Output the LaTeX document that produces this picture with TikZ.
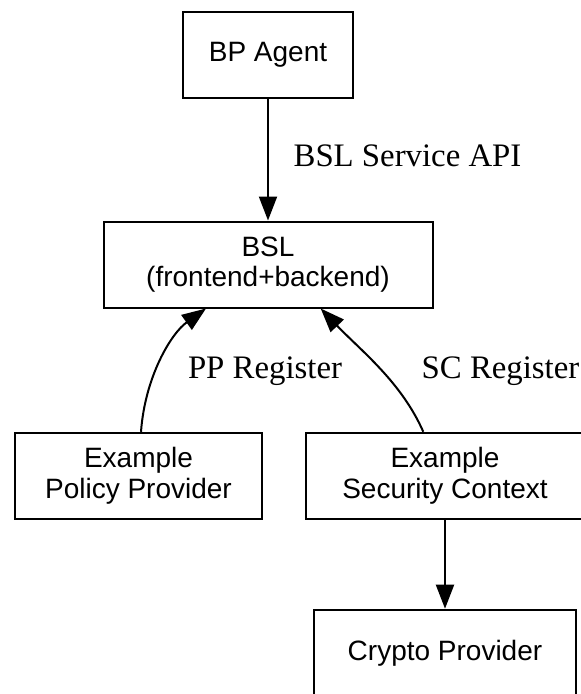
\documentclass[tikz,border=0pt]{standalone}
\usepackage{fontspec}
\setmainfont{Liberation Serif}
\newfontfamily\boxfont{Liberation Sans}
\usetikzlibrary{arrows.meta,calc}
\begin{document}
\begin{tikzpicture}[x=1pt,y=-1pt,
  box/.style={draw,line width=2pt,inner sep=0pt,align=center,
    minimum height=86pt,font=\boxfont\fontsize{28}{30.5}\selectfont},
  lbl/.style={anchor=base,inner sep=0pt,font=\fontsize{32.8}{36}\selectfont},
  link/.style={line width=2pt,-{Triangle[length=24pt,width=18pt]}}]
\useasboundingbox (0,0) rectangle (581,694);
\clip (0,0) rectangle (581,694);
\fill[white] (0,0) rectangle (581,694);

% components
\node[box,minimum width=170pt] (bp) at (268,54.8) {BP Agent};
\node[box,minimum width=329pt] (bsl) at (268,264.5) {BSL\\(frontend+backend)};
\node[box,minimum width=247.6pt] (pp) at (138.5,475.8) {Example\\Policy Provider};
\node[box,minimum width=278.6pt] (sc) at (445,475.8) {Example\\Security Context};
\node[box,minimum width=262pt,minimum height=86.6pt] (cp) at (445,653) {Crypto Provider};

% interfaces
\draw[link] (bp) -- (bsl);
\coordinate (ppfrom) at ($(pp.north)+(2.5,0)$);
\coordinate (ppto) at ($(bsl.south)+(-62,0)$);
\draw[link] (ppfrom) .. controls +(4,-55) and +(-35,25) .. (ppto);
\coordinate (scfrom) at ($(sc.north)+(-21.7,0)$);
\coordinate (scto) at ($(bsl.south)+(52.7,0)$);
\draw[link] (scfrom) .. controls +(-22,-50) and +(40,42) .. (scto);
\draw[link] (sc) -- (cp);

% labels
\node[lbl] (api) at (407.5,166.7) {BSL Service API};
\node[lbl] (ppreg) at (265,378.5) {PP Register};
\node[lbl] (screg) at (500.5,378.5) {SC Register};
\end{tikzpicture}
\end{document}
